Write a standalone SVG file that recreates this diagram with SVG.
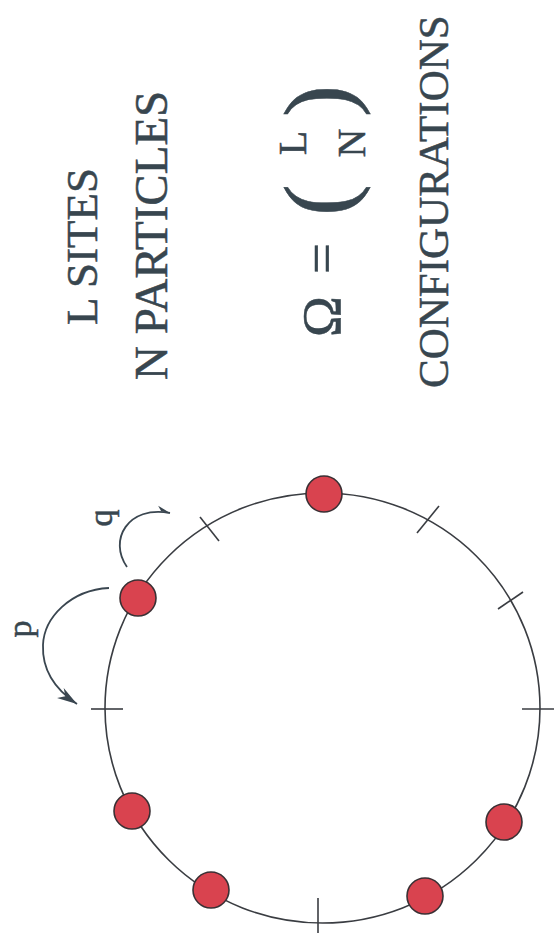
<svg xmlns="http://www.w3.org/2000/svg" width="554" height="947" viewBox="0 0 554 947">
<defs>
<style>
.t{font-family:"Liberation Serif","Times New Roman","DejaVu Serif",serif;fill:#38464f;stroke:#38464f;stroke-width:0.5}
.ring{fill:none;stroke:#3a3d42;stroke-width:1.6}
.tick{stroke:#3a3d42;stroke-width:1.6;fill:none}
.arc{fill:none;stroke:#3a4650;stroke-width:1.8}
.pt{fill:#d9434f;stroke:#3a3034;stroke-width:1.6}
</style>
<marker id="ah" markerUnits="userSpaceOnUse" markerWidth="24" markerHeight="16" refX="0" refY="0" viewBox="-22 -8 24 16" orient="auto">
<path d="M0,0 L-20,-6 L-14,0 L-20,6 Z" fill="#3a4650"/>
</marker>
<marker id="ah2" markerUnits="userSpaceOnUse" markerWidth="20" markerHeight="14" refX="0" refY="0" viewBox="-16 -7 18 14" orient="auto">
<path d="M0,0 L-13,-5 L-9,0 Z" fill="#3a4650"/>
</marker>
</defs>
<rect width="554" height="947" fill="#ffffff"/>

<g id="text-sites">
<text class="t" font-family="Liberation Serif, serif" font-size="45" transform="translate(97,325) rotate(-90)">L SITES</text>
</g>
<g id="text-particles">
<text class="t" font-family="Liberation Serif, serif" font-size="47" transform="translate(167,380) rotate(-90)">N PARTICLES</text>
</g>
<g id="formula">
<text class="t" font-family="Liberation Serif, serif" font-size="55" transform="translate(340,337) rotate(-90)">Ω</text>
<text class="t" font-family="Liberation Serif, serif" font-size="55" transform="translate(340,274) rotate(-90)">=</text>
<text class="t" font-family="Liberation Serif, serif" font-size="96" transform="translate(350,216) rotate(-90)">(</text>
<text class="t" font-family="Liberation Serif, serif" font-size="96" transform="translate(350,117) rotate(-90)">)</text>
<text class="t" font-family="Liberation Serif, serif" font-size="40" text-anchor="middle" transform="translate(306,143) rotate(-90)">L</text>
<text class="t" font-family="Liberation Serif, serif" font-size="40" text-anchor="middle" transform="translate(365,143) rotate(-90)">N</text>
</g>
<g id="text-configurations">
<text class="t" font-family="Liberation Serif, serif" font-size="43" transform="translate(448,388) rotate(-90)">CONFIGURATIONS</text>
</g>

<g id="ring">
<ellipse class="ring" cx="322.5" cy="708" rx="217.5" ry="215"/>
<line class="tick" x1="91" y1="709" x2="123" y2="709"/>
<line class="tick" x1="522" y1="709" x2="556" y2="709"/>
<line class="tick" x1="318" y1="898" x2="318" y2="933"/>
<line class="tick" x1="200" y1="517" x2="219" y2="541"/>
<line class="tick" x1="417" y1="533" x2="439" y2="506"/>
<line class="tick" x1="498" y1="609" x2="523" y2="592"/>
</g>

<g id="connectors">
<path class="arc" d="M109,588 C70,590 44,618 43,645 C42,670 56,690 77,704" marker-end="url(#ah)"/>
<path class="arc" d="M127,567 C108,540 128,505 170,513" marker-end="url(#ah2)"/>
</g>
<g id="label-p"><text class="t" font-family="Liberation Serif, serif" font-size="34" text-anchor="middle" transform="translate(31,629) rotate(-90)">p</text></g>
<g id="label-q"><text class="t" font-family="Liberation Serif, serif" font-size="34" text-anchor="middle" transform="translate(112,518) rotate(-90)">q</text></g>

<g id="particle-1"><circle class="pt" cx="324" cy="494" r="18"/></g>
<g id="particle-2"><circle class="pt" cx="138" cy="598" r="18"/></g>
<g id="particle-3"><circle class="pt" cx="132" cy="811" r="18"/></g>
<g id="particle-4"><circle class="pt" cx="211" cy="890" r="18"/></g>
<g id="particle-5"><circle class="pt" cx="425" cy="896" r="18"/></g>
<g id="particle-6"><circle class="pt" cx="504" cy="822" r="18"/></g>
</svg>
